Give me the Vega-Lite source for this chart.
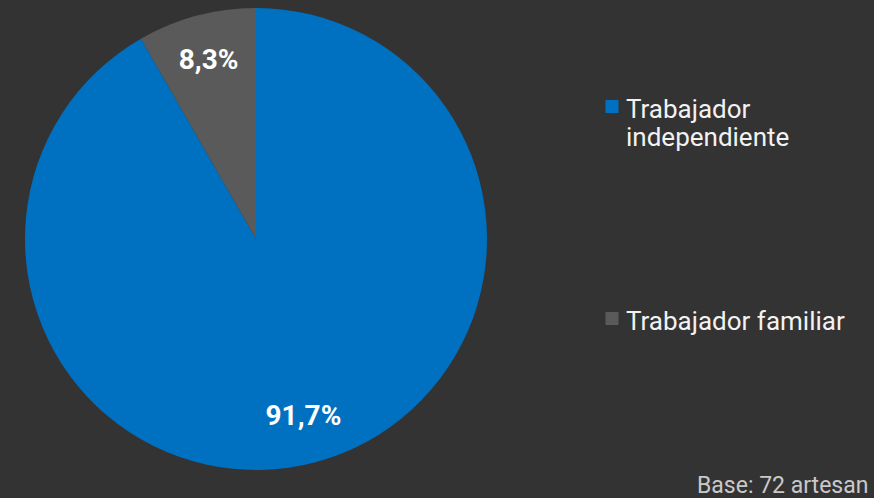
{
  "$schema": "https://vega.github.io/schema/vega-lite/v6.json",
  "width": 512,
  "height": 478,
  "autosize": {"type": "none"},
  "padding": {"left": 0, "top": 0, "right": 362, "bottom": 20},
  "background": "#333333",
  "config": {"view": {"stroke": null}, "font": "Roboto"},
  "title": {
    "text": "Base: 72 artesan",
    "orient": "bottom",
    "anchor": "start",
    "frame": "group",
    "dx": 697,
    "offset": -3,
    "fontSize": 23,
    "fontWeight": "normal",
    "color": "#c9c9c9",
    "font": "Roboto"
  },
  "data": {
    "values": [
      {"categoria": "Trabajador independiente", "valor": 91.7, "etiqueta": "91,7%", "orden": 1},
      {"categoria": "Trabajador familiar", "valor": 8.3, "etiqueta": "8,3%", "orden": 2}
    ]
  },
  "encoding": {
    "theta": {"field": "valor", "type": "quantitative", "stack": true},
    "order": {"field": "orden", "type": "quantitative"}
  },
  "layer": [
    {
      "mark": {"type": "arc", "outerRadius": 231},
      "encoding": {
        "color": {
          "field": "categoria",
          "type": "nominal",
          "sort": ["Trabajador independiente", "Trabajador familiar"],
          "scale": {"domain": ["Trabajador independiente", "Trabajador familiar"], "range": ["#0070C0", "#5A5A5A"]},
          "legend": {
            "title": null,
            "orient": "none",
            "legendX": 599,
            "legendY": 84,
            "symbolType": "M-1,0.46H1V2.46H-1Z",
            "symbolSize": 169,
            "symbolStrokeWidth": 0,
            "labelFontSize": 26,
            "labelColor": "#f2f2f2",
            "labelFont": "Roboto",
            "labelOffset": 1,
            "labelLimit": 300,
            "labelLineHeight": 32,
            "labelBaseline": "top",
            "rowPadding": 145,
            "labelExpr": "datum.label == 'Trabajador independiente' ? ['Trabajador', 'independiente'] : datum.label"
          }
        }
      }
    },
    {
      "mark": {"type": "text", "radius": 184, "fontSize": 28, "fontWeight": "bold", "color": "#ffffff", "font": "Roboto"},
      "encoding": {"text": {"field": "etiqueta"}}
    }
  ]
}
